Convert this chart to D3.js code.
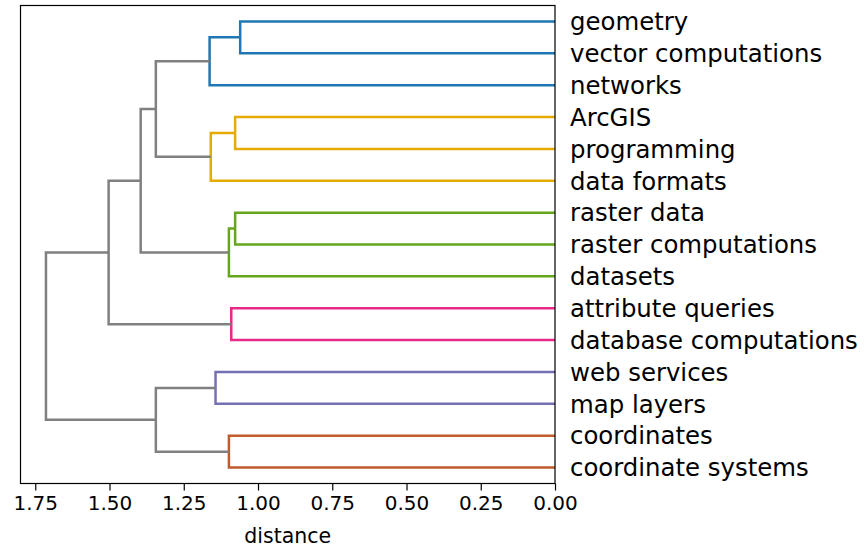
<!DOCTYPE html>
<html>
<head>
<meta charset="utf-8">
<script src="https://cdn.jsdelivr.net/npm/d3@7"></script>
<style>
	body { margin: 0; background: #fff; }
	svg { display: block; font-family: "DejaVu Sans", sans-serif; }
</style>
</head>
<body>
<svg id="chart" width="864" height="550"></svg>
<script>
// leaves, top to bottom
var leaves = ["geometry", "vector computations", "networks", "ArcGIS", "programming",
	"data formats", "raster data", "raster computations", "datasets", "attribute queries",
	"database computations", "web services", "map layers", "coordinates", "coordinate systems"];

// merges: ids 0..14 are leaves, merge k gets id 15+k
var mergeLeft  = [0, 15, 3, 17, 6, 19, 9, 11, 13, 16, 24, 25, 22, 26];
var mergeRight = [1, 2, 4, 5, 7, 8, 10, 12, 14, 18, 20, 21, 23, 27];
var mergeDist  = [1.060, 1.163, 1.077, 1.159, 1.077, 1.098, 1.090, 1.143, 1.098, 1.344, 1.395, 1.503, 1.344, 1.714];
var mergeColor = ["#1f77b4", "#1f77b4", "#e6ab02", "#e6ab02", "#66a61e", "#66a61e", "#e7298a",
	"#7570b3", "#bf5b2c", "#808080", "#808080", "#808080", "#808080", "#808080"];

var xTicks = [1.75, 1.5, 1.25, 1.0, 0.75, 0.5, 0.25, 0.0];

var svg = d3.select("#chart");
var plotL = 20.5, plotR = 555, plotT = 5.5, plotB = 483.5;

var x = d3.scaleLinear()
	.domain([d3.max(mergeDist) * 1.05, 0])
	.range([plotL, plotR]);
var y = d3.scaleLinear()
	.domain([0, leaves.length])
	.range([plotT, plotB]);

// node positions
var pos = leaves.map(function(d, i) { return i + 0.5; }),
		height = leaves.map(function() { return 0; });
mergeDist.forEach(function(h, k) {
	var a = mergeLeft[k], b = mergeRight[k];
	pos.push((pos[a] + pos[b]) / 2);
	height.push(h);
});

var links = svg.append("g").attr("fill", "none").attr("stroke-width", 2.5);
mergeDist.forEach(function(h, k) {
	var a = mergeLeft[k], b = mergeRight[k];
	links.append("path")
		.attr("stroke", mergeColor[k])
		.attr("d", "M" + x(height[a]) + "," + y(pos[a]) +
			"H" + x(h) + "V" + y(pos[b]) + "H" + x(height[b]));
});

// frame
svg.append("rect")
	.attr("x", plotL).attr("y", plotT)
	.attr("width", plotR - plotL).attr("height", plotB - plotT)
	.attr("fill", "none").attr("stroke", "#000").attr("stroke-width", 1.2);

var xAxis = d3.axisBottom(x)
	.tickValues(xTicks)
	.tickFormat(d3.format(".2f"))
	.tickSize(7)
	.tickPadding(5);

var gx = svg.append("g")
	.attr("transform", "translate(0," + plotB + ")")
	.call(xAxis);
gx.select(".domain").remove();
gx.selectAll(".tick line").attr("stroke", "#000").attr("stroke-width", 1.2);
gx.selectAll(".tick text")
	.attr("fill", "#000")
	.attr("font-size", 20)
	.attr("font-family", "DejaVu Sans");

svg.append("text")
	.attr("x", (plotL + plotR) / 2)
	.attr("y", 543)
	.attr("text-anchor", "middle")
	.attr("font-size", 20.5)
	.text("distance");

svg.append("g").selectAll("text")
	.data(leaves)
	.join("text")
		.attr("x", plotR + 15)
		.attr("y", function(d, i) { return y(i + 0.5); })
		.attr("dy", "0.36em")
		.attr("font-size", 24.4)
		.text(function(d) { return d; });
</script>
</body>
</html>
